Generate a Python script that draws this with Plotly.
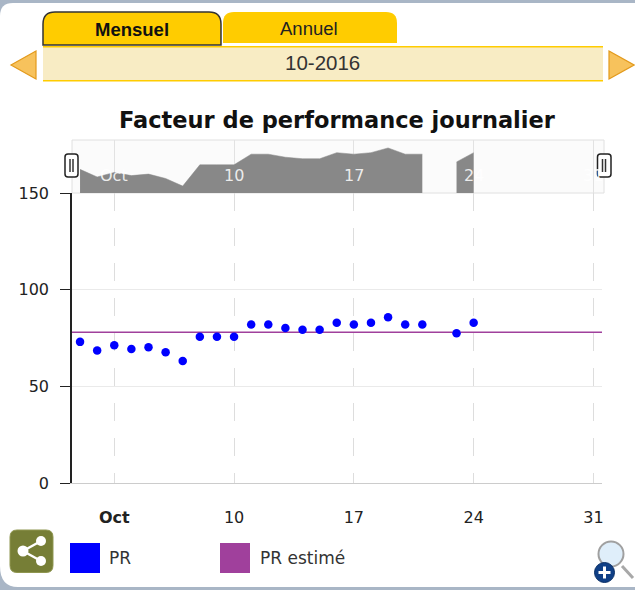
import plotly.graph_objects as go

days = [1, 2, 3, 4, 5, 6, 7, 8, 9, 10, 11, 12, 13, 14, 15, 16, 17, 18, 19, 20, 21, 23, 24]
pr = [73, 68.5, 71.2, 69.3, 70.2, 67.6, 63.1, 75.7, 75.7, 75.7, 82, 82, 80.2, 79.3, 79.3, 82.9, 82, 82.9, 85.7, 82, 82, 77.4, 82.9]
pr_est_days = [0.53, 31.5]
pr_est = [78, 78]
tick_days = [3, 10, 17, 24, 31]
tick_text = ["<b>Oct</b>", "10", "17", "24", "31"]
nav_text = ["Oct", "10", "17", "24", "31"]
y_ticks = [0, 50, 100, 150]
gap_index = days.index(23)  # no reading on 22 October

W, H = 635, 590
FONT = "DejaVu Sans"
ARIAL = "Liberation Sans"
X0, X1 = 72, 602
YM_T, YM_B = 193, 483
YN_T, YN_B = 140, 193


def px(x):
    return x / W


def py(y):
    return 1 - y / H


def path(d, fill, line=None, width=0, layer="below"):
    return dict(type="path", xref="paper", yref="paper", path=d, fillcolor=fill,
                line=dict(color=line or "rgba(0,0,0,0)", width=width), layer=layer)


def P(*pts):
    return "M" + " L".join(f"{px(x):.5f},{py(y):.5f}" for x, y in pts) + " Z"


def box(x0, y0, x1, y1, fill, line=None, width=0, layer="below"):
    return dict(type="rect", xref="paper", yref="paper", x0=px(x0), x1=px(x1), y0=py(y1), y1=py(y0),
                fillcolor=fill, line=dict(color=line or "rgba(0,0,0,0)", width=width), layer=layer)


def rounded_top(x0, y0, x1, y1, r):
    return (f"M{px(x0):.5f},{py(y1):.5f} L{px(x0):.5f},{py(y0 + r):.5f} "
            f"Q{px(x0):.5f},{py(y0):.5f} {px(x0 + r):.5f},{py(y0):.5f} "
            f"L{px(x1 - r):.5f},{py(y0):.5f} Q{px(x1):.5f},{py(y0):.5f} {px(x1):.5f},{py(y0 + r):.5f} "
            f"L{px(x1):.5f},{py(y1):.5f} Z")


def rounded_box(x0, y0, x1, y1, r):
    return (f"M{px(x0):.5f},{py(y0 + r):.5f} Q{px(x0):.5f},{py(y0):.5f} {px(x0 + r):.5f},{py(y0):.5f} "
            f"L{px(x1 - r):.5f},{py(y0):.5f} Q{px(x1):.5f},{py(y0):.5f} {px(x1):.5f},{py(y0 + r):.5f} "
            f"L{px(x1):.5f},{py(y1 - r):.5f} Q{px(x1):.5f},{py(y1):.5f} {px(x1 - r):.5f},{py(y1):.5f} "
            f"L{px(x0 + r):.5f},{py(y1):.5f} Q{px(x0):.5f},{py(y1):.5f} {px(x0):.5f},{py(y1 - r):.5f} Z")


def circle(cx, cy, r, fill, line=None, width=0, layer="above"):
    return dict(type="circle", xref="paper", yref="paper", x0=px(cx - r), x1=px(cx + r), y0=py(cy + r), y1=py(cy - r),
                fillcolor=fill, line=dict(color=line or "rgba(0,0,0,0)", width=width), layer=layer)


def seg(x0, y0, x1, y1, color, width, layer="above"):
    return dict(type="line", xref="paper", yref="paper", x0=px(x0), x1=px(x1), y0=py(y0), y1=py(y1),
                line=dict(color=color, width=width), layer=layer)


shapes = [
    # tabs and month bar
    path(rounded_top(223, 12, 397, 43, 11), "#ffcc00"),
    path(rounded_top(43, 12, 221, 45, 12), "#ffcc00", "#333333", 1.5),
    box(43, 46, 603, 81, "#f8ecc4"),
    box(43, 46, 603, 47.5, "#ffcc00"),
    box(43, 80, 603, 81.5, "#ffcc00"),
    # previous / next arrows
    path(P((36, 51), (36, 79), (11, 65)), "#f7c25c", "#e39a1c", 1.2),
    path(P((609, 51), (609, 79), (634, 65)), "#f7c25c", "#e39a1c", 1.2),
    # navigator frame
    box(72, YN_T, 604, YN_T + 53, "#fbfbfb", "#e0e0e0", 1),
    # legend swatches
    box(70, 543, 100, 573, "#0000ff"),
    box(220, 543, 250, 573, "#a0409c"),
    # share icon
    path(rounded_box(10, 530, 53, 572.5, 7), "#767e36", "#8f9650", 1),
    seg(23, 551, 41, 541, "white", 2.5),
    seg(23, 551, 41, 561, "white", 2.5),
    circle(23, 551, 5.5, "white"),
    circle(41, 541, 5, "white"),
    circle(41, 561, 5, "white"),
    # zoom icon
    seg(622, 566, 633, 578, "#a8a8a8", 3),
    circle(611, 554, 12.5, "#dfeefa", "#a0a0a0", 2),
    circle(604.5, 572.5, 10, "#0f3f86", "#0a2f66", 1),
    seg(598.5, 572.5, 610.5, 572.5, "white", 3),
    seg(604.5, 566.5, 604.5, 578.5, "white", 3),
    # navigator handles
    path(rounded_box(65, 154, 78, 177, 3), "white", "#222222", 1.5, "above"),
    seg(70, 159, 70, 172, "#333333", 1.5),
    seg(73, 159, 73, 172, "#333333", 1.5),
    path(rounded_box(597.5, 154, 611, 177, 3), "white", "#222222", 1.5, "above"),
    seg(602.5, 159, 602.5, 172, "#333333", 1.5),
    seg(605.5, 159, 605.5, 172, "#333333", 1.5),
]


def text(x, y, s, size, family=FONT, color="#222222", anchor="center", xref="paper", yref="paper"):
    return dict(x=px(x) if xref == "paper" else x, y=py(y), xref=xref, yref=yref, text=s, showarrow=False,
                font=dict(family=family, size=size, color=color), xanchor=anchor, yanchor="middle")


annotations = [
    text(132, 29, "<b>Mensuel</b>", 18.5, ARIAL, "#111111"),
    text(309, 28, "Annuel", 18.5, ARIAL, "#222222"),
    text(322, 63, "10-2016", 20.5, ARIAL, "#333333"),
    text(337, 120, "<b>Facteur de performance journalier</b>", 22.5, FONT, "#111111"),
    text(107, 558, "PR", 17, FONT, "#333333", "left"),
    text(258, 558, "PR estimé", 17, FONT, "#333333", "left"),
]
for d, t in zip(tick_days, nav_text):
    annotations.append(text(d, 175, t, 16, FONT, "rgba(255,255,255,0.85)", xref="x2"))

fig = go.Figure()
for nav_x, nav_y in ((days[:gap_index], pr[:gap_index]), (days[gap_index:], pr[gap_index:])):
    fig.add_trace(go.Scatter(x=nav_x, y=nav_y, xaxis="x2", yaxis="y2", mode="lines", fill="tozeroy",
                             fillcolor="#888888", line=dict(color="#888888", width=0.5),
                             showlegend=False, hoverinfo="skip"))
fig.add_trace(go.Scatter(x=pr_est_days, y=pr_est, mode="lines", name="PR estimé",
                         line=dict(color="#a0409c", width=1.6), showlegend=False))
fig.add_trace(go.Scatter(x=days, y=pr, mode="markers", name="PR",
                         marker=dict(color="#0000ff", size=8.5), showlegend=False))

fig.update_layout(
    width=W, height=H, margin=dict(l=0, r=0, t=0, b=0, autoexpand=False), paper_bgcolor="#a9b6c6", plot_bgcolor="rgba(0,0,0,0)",
    font=dict(family=FONT, size=16, color="#222222"), showlegend=False,
    shapes=[
        dict(type="path", xref="paper", yref="paper", layer="below", fillcolor="white", line=dict(width=0),
             path=(f"M{px(0)},{py(16)} Q{px(0)},{py(3)} {px(13)},{py(3)} L{px(635)},{py(3)} L{px(635)},{py(587)} "
                   f"L{px(18)},{py(587)} Q{px(0)},{py(587)} {px(0)},{py(566)} Z")),
    ] + shapes,
    annotations=annotations,
    xaxis=dict(domain=[px(X0), px(X1)], range=[0.53, 31.5], anchor="y", tickmode="array", tickvals=tick_days,
               ticktext=tick_text, showgrid=True, gridcolor="#dddddd", gridwidth=1.2, griddash="18px,17px",
               ticks="", ticklen=0, zeroline=False, showline=True, linecolor="#cccccc", linewidth=1,
               automargin=False, tickfont=dict(size=16, color="#222222"), ticklabelstandoff=20),
    yaxis=dict(domain=[py(YM_B), py(YM_T)], range=[0, 150], anchor="x", tickvals=y_ticks, showgrid=True,
               gridcolor="#eaeaea", gridwidth=1, zeroline=False, showline=True, linecolor="#222222", linewidth=1.5,
               ticks="outside", ticklen=10, tickcolor="#222222", tickwidth=1, automargin=False,
               ticklabelstandoff=8, tickfont=dict(size=16, color="#222222")),
    xaxis2=dict(domain=[px(X0), px(X1)], range=[0.53, 31.5], anchor="y2", tickmode="array", tickvals=tick_days,
                showticklabels=False, showgrid=True, gridcolor="#e2e2e2", zeroline=False, ticks="", automargin=False),
    yaxis2=dict(domain=[py(YN_B), py(YN_T)], range=[59, 90.4], anchor="x2", showticklabels=False, showgrid=False,
                zeroline=False, ticks="", automargin=False),
)

fig.write_html("out.html", config=dict(displayModeBar=False),
               post_script="document.body.style.margin='0';document.documentElement.style.overflow='hidden';")
